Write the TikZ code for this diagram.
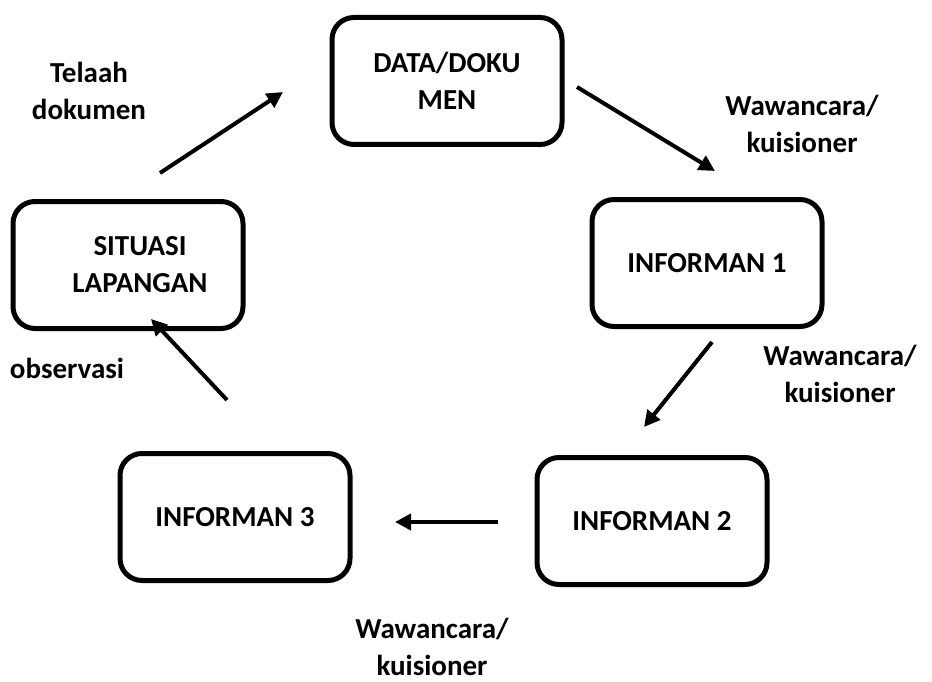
\documentclass[tikz,border=0pt]{standalone}
\usepackage{fontspec}
\setmainfont{Carlito}
\usetikzlibrary{arrows.meta}
\begin{document}
\begin{tikzpicture}[x=1pt,y=-1pt,
  stage/.style={draw=black, line width=5pt, rounded corners=22pt,
    minimum width=230pt, minimum height=127pt, align=center,
    font=\fontsize{29}{37}\selectfont\bfseries, inner sep=0pt},
  lbl/.style={align=center, font=\fontsize{29}{37}\selectfont\bfseries, inner sep=0pt},
  flow/.style={line width=4pt, -{Triangle[length=16pt,width=16pt]}}]
\useasboundingbox (0,0) rectangle (932,682);

% process stages
\node[stage] (data) at (447,81) {DATA/DOKU\\MEN};
\node[stage] (inf1) at (707,263) {INFORMAN 1};
\node[stage] (inf2) at (652,521) {INFORMAN 2};
\node[stage] (inf3) at (235,517) {INFORMAN 3};
\node[stage] (sit)  at (128,265) {};
\node[lbl] (sittext) at ([xshift=12pt]sit.center) {SITUASI\\LAPANGAN};

% arrow end points
\coordinate (s1) at (160,173); \coordinate (e1) at (283,92);
\coordinate (s2) at (577,87);  \coordinate (e2) at (715,171);
\coordinate (s3) at (712,342); \coordinate (e3) at (644,427);
\coordinate (s4) at (498,522); \coordinate (e4) at (395,522);
\coordinate (s5) at (227,400); \coordinate (e5) at (151,319);

\draw[flow] (s1) -- (e1);
\draw[flow] (s2) -- (e2);
\draw[flow] (s3) -- (e3);
\draw[flow] (s4) -- (e4);
\draw[flow] (s5) -- (e5);

% method labels
\node[lbl] (l1) at (89,91)   {Telaah\\dokumen};
\node[lbl] (l2) at (802,124) {Wawancara/\\kuisioner};
\node[lbl] (l3) at (840,374) {Wawancara/\\kuisioner};
\node[lbl] (l4) at (432,647) {Wawancara/\\kuisioner};
\node[lbl] (l5) at (67,368)  {observasi};
\end{tikzpicture}
\end{document}
